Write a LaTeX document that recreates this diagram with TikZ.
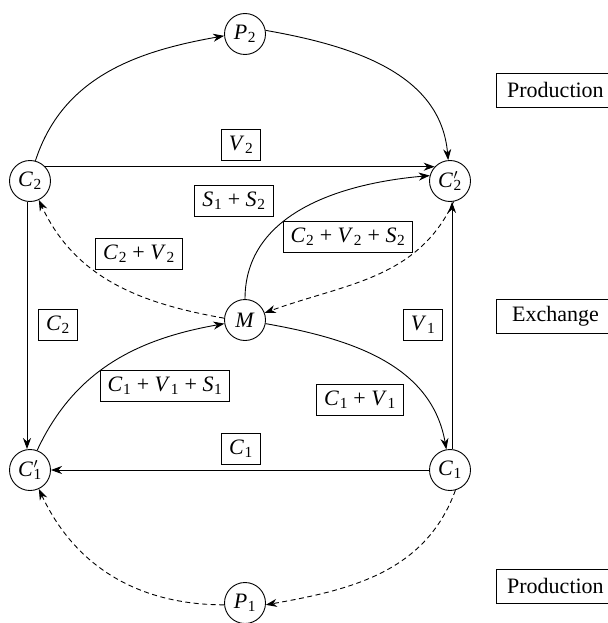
\documentclass[tikz,border=0pt]{standalone}
\usepackage{fontspec}
\setmainfont{Liberation Serif}
\usetikzlibrary{arrows.meta}
\newcommand{\sy}[2]{\textit{#1}\kern0.03em\textsubscript{#2}}
\newcommand{\syp}[2]{\textit{#1}\kern0.03em\rlap{$^{\prime}$}\textsubscript{#2}}
\begin{document}
\begin{tikzpicture}[x=1pt,y=-1pt,
  every node/.style={font=\fontsize{22}{26}\selectfont},
  st/.style={draw,circle,minimum size=41pt,inner sep=0pt,line width=0.9pt},
  lab/.style={draw,inner xsep=7.5pt,inner ysep=7pt,line width=0.9pt},
  side/.style={lab,minimum width=118pt,minimum height=34pt,anchor=west},
  conn/.style={line width=0.9pt,-{Stealth[length=11pt,width=8pt,inset=3.5pt]}},
  dsh/.style={conn,dash pattern=on 5pt off 3.5pt}]
\useasboundingbox (0,0) rectangle (607,623);
\node[st] (P2) at (245,34) {\sy{P}{2}};
\node[st] (C2) at (30,181) {\sy{C}{2}};
\node[st] (C2p) at (450,181) {\syp{C}{2}};
\node[st] (M) at (245,320) {\textit{M}};
\node[st] (C1p) at (30,470) {\syp{C}{1}};
\node[st] (C1) at (450,470) {\sy{C}{1}};
\node[st] (P1) at (245,603) {\sy{P}{1}};
\node[side] (prodA) at (496,90) {Production};
\node[side] (exch) at (496,316) {Exchange};
\node[side] (prodB) at (496,586) {Production};
\node[lab] (lV2) at (241,145) {\sy{V}{2}};
\node[lab] (lS) at (234,201) {\sy{S}{1} + \sy{S}{2}};
\node[lab] (lCV2) at (139,254) {\sy{C}{2} + \sy{V}{2}};
\node[lab] (lCVS2) at (348,237) {\sy{C}{2} + \sy{V}{2} + \sy{S}{2}};
\node[lab] (lC2) at (58,325) {\sy{C}{2}};
\node[lab] (lV1) at (423,325) {\sy{V}{1}};
\node[lab] (lCVS1) at (165,386) {\sy{C}{1} + \sy{V}{1} + \sy{S}{1}};
\node[lab] (lCV1) at (360,400) {\sy{C}{1} + \sy{V}{1}};
\node[lab] (lC1) at (241,449) {\sy{C}{1}};
\draw[conn] (C2.75) to[out=72,in=190] (P2.185);
\draw[conn] (P2.10) to[out=-10,in=95] (C2p.95);
\draw[conn] (C2.43) -- (C2p.137);
\draw[conn] (M.90) to[out=90,in=185] (C2p.165);
\draw[dsh] (C2p.-80) to[out=-115,in=20] (M.20);
\draw[dsh] (M.175) to[out=170,in=-65] (C2.-65);
\draw[conn] ([xshift=-3pt]C2.south) -- ([xshift=-3pt]C1p.north);
\draw[conn] (C1p.70) to[out=65,in=190] (M.190);
\draw[conn] (M.-10) to[out=-10,in=100] (C1.100);
\draw[conn] (C1) -- (C1p);
\draw[conn] ([xshift=2pt]C1.north) -- ([xshift=2pt]C2p.south);
\draw[dsh] (C1.-75) to[out=-110,in=10] (P1.-5);
\draw[dsh] (P1.185) to[out=180,in=-65] (C1p.-65);
\end{tikzpicture}
\end{document}
